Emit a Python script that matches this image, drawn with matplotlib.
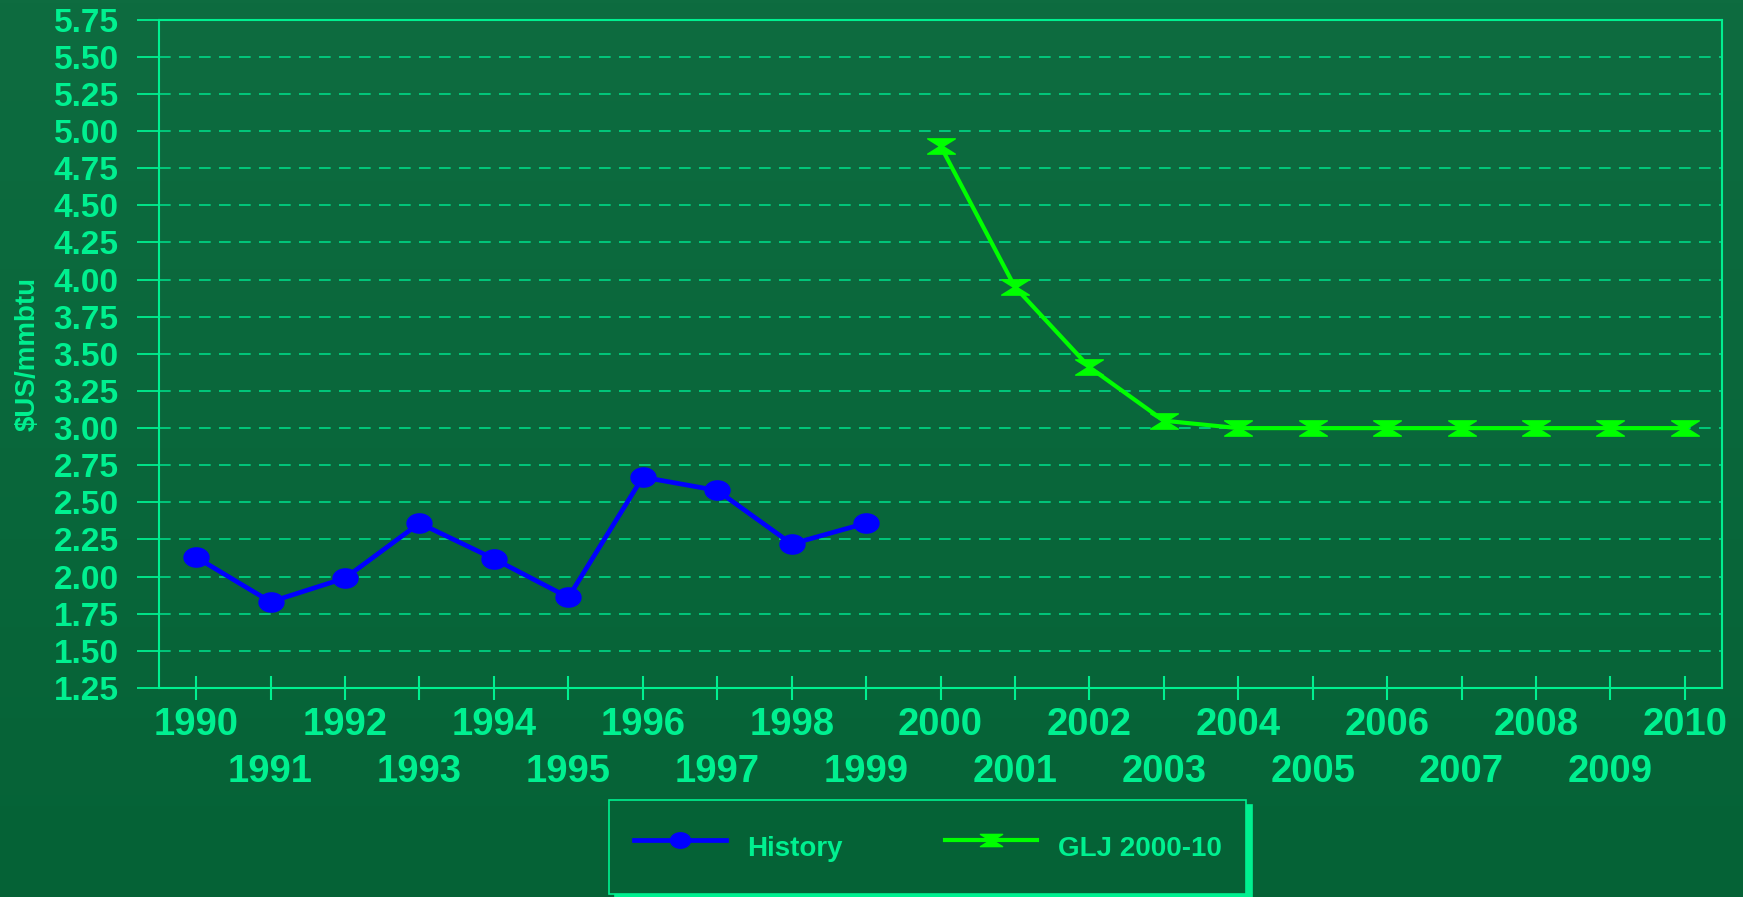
import matplotlib.pyplot as plt
import numpy as np
from matplotlib.path import Path

years = list(range(1990, 2011))
history_years = list(range(1990, 2000))
history = [2.13, 1.83, 1.99, 2.36, 2.12, 1.86, 2.67, 2.58, 2.22, 2.36]
glj_years = list(range(2000, 2011))
glj = [4.90, 3.95, 3.41, 3.05, 3.00, 3.00, 3.00, 3.00, 3.00, 3.00, 3.00]
yticks = [1.25, 1.50, 1.75, 2.00, 2.25, 2.50, 2.75, 3.00, 3.25, 3.50, 3.75,
          4.00, 4.25, 4.50, 4.75, 5.00, 5.25, 5.50, 5.75]

txt = "#00f090"
grid_c = "#00d886"

plt.rcParams['font.family'] = ['Liberation Sans', 'DejaVu Sans']

# markers: flat ellipse and hourglass
t = np.linspace(0, 2 * np.pi, 40)
ellipse = Path(np.column_stack([1.3 * np.cos(t), np.sin(t)]), closed=True)
hourglass = Path([(-1, 0.55), (1, 0.55), (0.12, 0), (1, -0.55), (-1, -0.55), (-0.12, 0), (-1, 0.55)],
                 closed=True)

fig = plt.figure(figsize=(17.43, 8.97), dpi=100)

# gradient background
bg = fig.add_axes([0, 0, 1, 1], zorder=-10)
top = np.array([14, 108, 64]) / 255
bot = np.array([5, 98, 54]) / 255
g = np.linspace(0, 1, 256)[:, None]
img = top[None, None, :] * (1 - g[:, :, None]) + bot[None, None, :] * g[:, :, None]
bg.imshow(np.repeat(img, 2, axis=1), aspect='auto', extent=[0, 1, 0, 1])
bg.axis('off')

ax = fig.add_axes([0.0912, 0.233, 0.8968, 0.745])
ax.set_facecolor('none')

hx = [years.index(y) for y in history_years]
gx = [years.index(y) for y in glj_years]
ax.plot(hx, history, color='#0000ff', lw=3.4, marker=ellipse, markersize=18,
        markerfacecolor='#0000ff', markeredgecolor='#0000ff', label='History', zorder=5)
ax.plot(gx, glj, color='#00ff00', lw=3.0, marker=hourglass, markersize=20,
        markerfacecolor='#00ff00', markeredgecolor='#00ff00', label='GLJ 2000-10', zorder=5)

ax.set_xlim(-0.5, len(years) - 0.5)
ax.set_ylim(1.25, 5.75)
ax.set_yticks(yticks)
ax.set_yticklabels([f"{v:.2f}" for v in yticks])

# even years on the first row, odd years on the second row
even = [i for i, y in enumerate(years) if y % 2 == 0]
odd = [i for i, y in enumerate(years) if y % 2 == 1]
ax.set_xticks(even)
ax.set_xticklabels([str(years[i]) for i in even])
ax.set_xticks(odd, minor=True)
ax.set_xticklabels([str(years[i]) for i in odd], minor=True)

for lab in ax.get_yticklabels():
    lab.set_fontweight('bold')
    lab.set_color(txt)
    lab.set_fontsize(24)
for lab in ax.get_xticklabels() + ax.get_xticklabels(minor=True):
    lab.set_fontweight('bold')
    lab.set_color(txt)
    lab.set_fontsize(27.5)

ax.tick_params(axis='x', which='major', direction='inout', length=17, width=1.5, color=txt, pad=5)
ax.tick_params(axis='x', which='minor', direction='inout', length=17, width=1.5, color=txt, pad=39)
ax.tick_params(axis='y', direction='out', length=16, width=1.3, color=txt, pad=13)

ax.yaxis.grid(True, color=grid_c, lw=1.2, dashes=(7, 5))
ax.set_axisbelow(True)
for s in ax.spines.values():
    s.set_color(txt)
    s.set_linewidth(1.5)

ax.set_ylabel("\\$US/mmbtu", color=txt, fontsize=20, fontweight='bold', labelpad=9)

leg = fig.legend(loc='lower left', bbox_to_anchor=(0.348, 0.0), borderaxespad=0.1,
                 ncol=2, frameon=True, facecolor='#056236', edgecolor=txt,
                 fancybox=False, shadow={'color': txt, 'alpha': 1, 'ox': 4, 'oy': -4},
                 prop={'weight': 'bold', 'size': 20}, labelcolor=txt,
                 handlelength=3.3, handleheight=2.1, columnspacing=3.7, borderpad=0.9,
                 handletextpad=0.75, markerscale=0.8)
leg.get_frame().set_linewidth(1.2)

fig.savefig("out.png", dpi=100)
